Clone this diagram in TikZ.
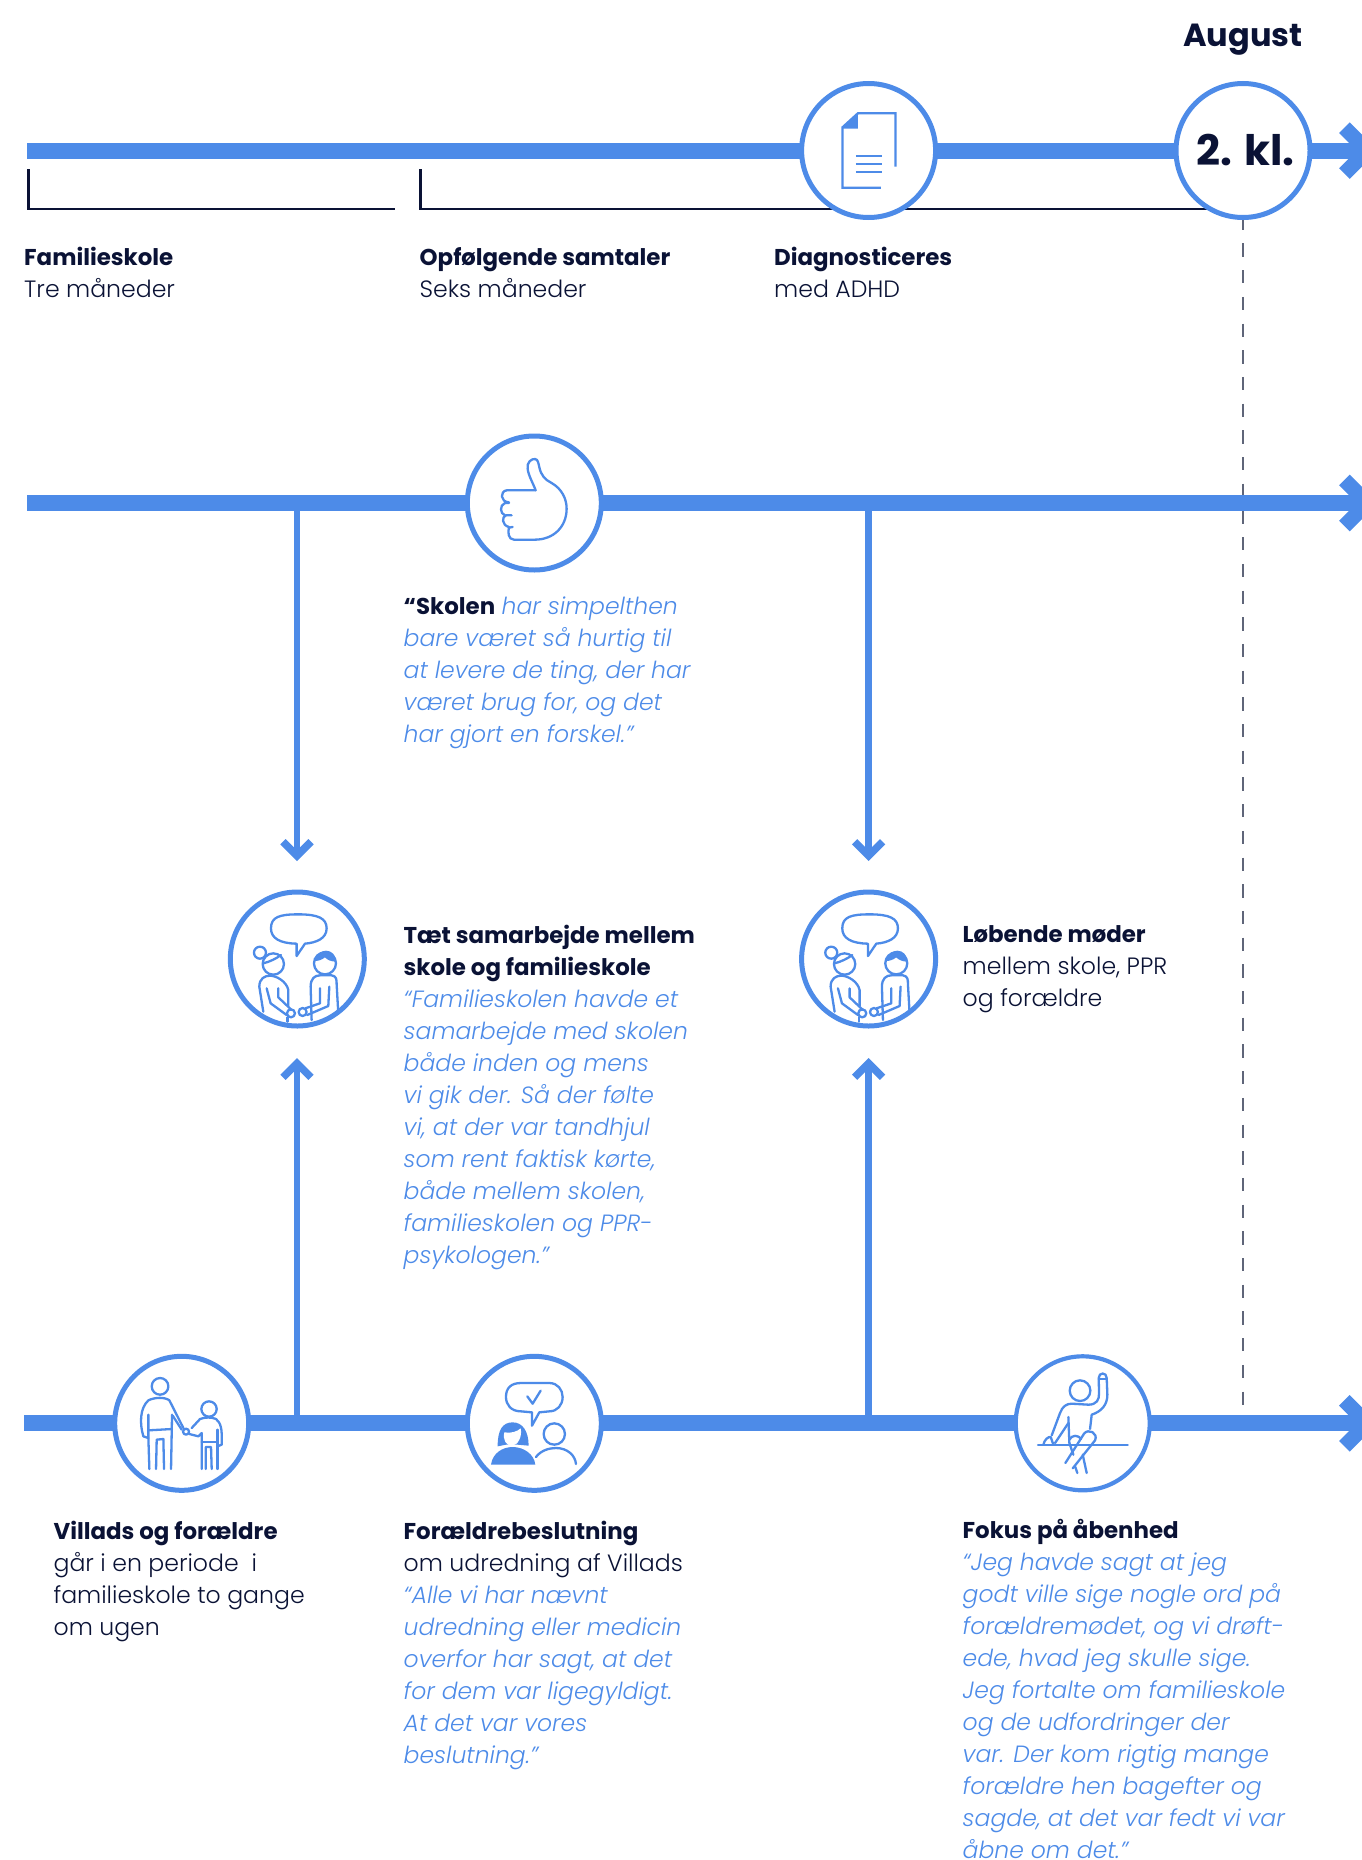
\documentclass[tikz,border=0pt]{standalone}
\usepackage{fontspec}
\setmainfont{Poppins}[UprightFont=* Light,ItalicFont=* Light Italic,BoldFont=* Bold,BoldItalicFont=* Bold Italic]
\usetikzlibrary{arrows.meta}
\definecolor{mainblue}{HTML}{4D8BE8}
\definecolor{navy}{HTML}{0A1235}
\definecolor{dashgrey}{HTML}{5F6579}
\newcommand{\st}{\rule{0pt}{24pt}}
\newcommand{\hd}[1]{{\fontsize{22.9}{32}\selectfont\bfseries\color{navy}#1}}
\newcommand{\qt}[1]{{\fontsize{23.5}{32}\selectfont\color{mainblue}\itshape #1}}
\tikzset{
  bar/.style={draw=mainblue,line width=16pt},
  bararrow/.style={bar,-{Straight Barb[length=23pt,width=46pt,line width=15pt]}},
  vert/.style={draw=mainblue,line width=6.5pt},
  vertarrow/.style={vert,-{Straight Barb[length=14pt,width=28pt,line width=7.5pt]}},
  ring/.style={circle,draw=mainblue,line width=5pt,fill=white,minimum size=134pt,inner sep=0pt},
  bracket/.style={draw=navy,line width=2.4pt},
  dashline/.style={draw=dashgrey,line width=1.5pt,dash pattern=on 13.3pt off 13.4pt},
  blk/.style={anchor=north west,inner sep=0pt,align=left,text=navy,font=\fontsize{23.6}{32}\selectfont},
  ic/.style={draw=mainblue,line width=2.3pt,line join=round,line cap=round},
  icf/.style={fill=mainblue,draw=none},
}
\newcommand{\talkicon}{%
  \draw[ic] (153,145) .. controls (153,110) and (180,103) .. (235,103) .. controls (295,103) and (320,115) .. (320,145) .. controls (320,175) and (290,188) .. (255,191) -- (230,228) -- (230,191) .. controls (180,190) and (153,175) .. (153,145) -- cycle;
  \draw[ic] (120,218) circle[radius=18];
  \draw[ic] (160,252) circle[radius=32];
  \draw[ic] (130,250) .. controls (150,245) and (170,235) .. (183,225);
  \draw[ic] (130,395) -- (118,320) .. controls (118,295) and (135,287) .. (150,287) .. controls (170,287) and (200,305) .. (205,330) -- (205,378);
  \draw[ic] (175,325) -- (175,352) -- (215,390);
  \draw[ic] (140,325) -- (152,370) -- (200,405);
  \draw[ic] (213,400) circle[radius=12];
  \draw[ic] (203,412) -- (203,425);
  \draw[ic] (315,250) circle[radius=33];
  \fill[icf] (283,243) .. controls (290,222) and (305,212) .. (318,212) .. controls (335,212) and (348,225) .. (348,245) .. controls (335,245) and (322,240) .. (315,232) .. controls (305,240) and (295,243) .. (283,243) -- cycle;
  \draw[ic] (275,420) -- (272,320) .. controls (272,295) and (285,286) .. (300,286) -- (335,286) .. controls (350,288) and (350,300) .. (350,312) -- (355,400);
  \draw[ic] (300,325) -- (300,370) -- (256,385);
  \draw[ic] (328,320) -- (325,378) -- (262,405);
  \draw[ic] (248,396) circle[radius=12];
}
\begin{document}
\begin{tikzpicture}[x=1pt,y=-1pt]
\useasboundingbox (0,0) rectangle (1362,1860);
\clip (0,0) rectangle (1362,1860);

% bracket and dashed line
\coordinate (b1a) at (28.5,169);
\coordinate (b1b) at (28.5,209);
\coordinate (b1c) at (395,209);
\coordinate (b2a) at (420.5,169);
\coordinate (b2b) at (420.5,209);
\coordinate (b2c) at (1215,209);
\draw[bracket] (b1a) -- (b1b) -- (b1c);
\draw[bracket] (b2a) -- (b2b) -- (b2c);
\coordinate (d1) at (1243,190);
\coordinate (d2) at (1243,1416);
\draw[dashline] (d1) -- (d2);

% timelines
\coordinate (l1s) at (27,150.6);
\coordinate (l1e) at (1378,150.6);
\coordinate (l2s) at (27,503);
\coordinate (l2e) at (1378,503);
\coordinate (l3s) at (24,1423.3);
\coordinate (l3e) at (1378,1423.3);
\draw[bararrow] (l1s) -- (l1e);
\draw[bararrow] (l2s) -- (l2e);
\draw[bararrow] (l3s) -- (l3e);

% vertical arrows
\coordinate (v1t) at (297,503);
\coordinate (v1a) at (297,861);
\coordinate (v1b) at (297,1423);
\coordinate (v1u) at (297,1058);
\coordinate (v2t) at (868.6,503);
\coordinate (v2a) at (868.6,861);
\coordinate (v2b) at (868.6,1423);
\coordinate (v2u) at (868.6,1058);
\draw[vertarrow] (v1t) -- (v1a);
\draw[vertarrow] (v1b) -- (v1u);
\draw[vertarrow] (v2t) -- (v2a);
\draw[vertarrow] (v2b) -- (v2u);

% circles
\node[ring] (doc) at (868.6,150.5) {};
\node[ring] (klasse) at (1243,150.5) {};
\node[ring] (thumb) at (534.3,503) {};
\node[ring] (talka) at (297.3,959) {};
\node[ring] (talkb) at (868.6,959) {};
\node[ring] (parents) at (181.7,1423.3) {};
\node[ring] (decision) at (534.3,1423.3) {};
\node[ring,line width=4.2pt] (focus) at (1082.7,1423.3) {};

\node[font=\fontsize{42}{42}\selectfont\bfseries,text=navy,anchor=base] (kl) at (1245.5,165) {2. kl.};
\node[font=\fontsize{32}{32}\selectfont\bfseries,text=navy,anchor=base] (aug) at (1243,47) {August};

% document icon
\begin{scope}[shift={(868.6,150)},x=0.3839pt,y=-0.3333pt,shift={(-283,-450)}]
  \draw[ic,line cap=butt,line join=miter] (353,500) -- (353,340) -- (255,340) -- (215,382) -- (215,563) -- (315,563);
  \fill[icf] (255,340) -- (255,386) -- (215,386) -- cycle;
  \draw[ic,line cap=butt] (250,467) -- (318,467);
  \draw[ic,line cap=butt] (250,492) -- (318,492);
  \draw[ic,line cap=butt] (250,517) -- (318,517);
\end{scope}

% thumb icon
\begin{scope}[shift={(534.3,503)},x=0.3333pt,y=-0.3333pt,shift={(-283,-248)}]
  \draw[ic] (287,210) .. controls (280,190) and (265,165) .. (263,145) .. controls (260,125) and (275,115) .. (285,116) .. controls (295,117) and (295,130) .. (298,140) .. controls (303,165) and (315,178) .. (335,188) .. controls (365,205) and (380,235) .. (380,265) .. controls (380,320) and (340,358) .. (285,358) -- (222,358) .. controls (205,358) and (203,335) .. (207,322) -- (218,320);
  \draw[ic] (215,285) -- (198,285) .. controls (185,288) and (185,315) .. (207,320);
  \draw[ic] (207,248) -- (195,248) .. controls (178,255) and (180,280) .. (195,285);
  \draw[ic] (287,210) -- (200,210) .. controls (180,212) and (180,245) .. (207,246);
\end{scope}

% talk icons
\begin{scope}[shift={(297.3,959)},x=0.3333pt,y=-0.3333pt,shift={(-232,-237)}]
  \talkicon
\end{scope}
\begin{scope}[shift={(868.6,959)},x=0.3333pt,y=-0.3333pt,shift={(-232,-237)}]
  \talkicon
\end{scope}

% parents icon
\begin{scope}[shift={(181.7,1423)},x=0.3333pt,y=-0.3333pt,shift={(-245,-250)}]
  \draw[ic] (180,140) circle[radius=25];
  \draw[ic] (145,295) -- (130,290) .. controls (118,250) and (120,205) .. (145,182) .. controls (165,172) and (195,172) .. (208,182) -- (250,265);
  \draw[ic] (145,225) -- (145,295) -- (148,388);
  \draw[ic] (145,272) -- (216,268);
  \draw[ic] (216,225) -- (213,388);
  \draw[ic] (168,388) -- (170,300) -- (190,298) -- (192,388);
  \draw[ic] (218,228) -- (245,270);
  \draw[ic] (258,276) circle[radius=9];
  \draw[ic] (268,283) -- (295,290) -- (305,280) -- (305,388);
  \draw[ic] (275,265) -- (300,238) .. controls (315,232) and (335,232) .. (348,238) .. controls (362,250) and (367,265) .. (365,315) -- (352,320);
  \draw[ic] (327,208) circle[radius=23];
  \draw[ic] (352,270) -- (352,388);
  \draw[ic] (305,307) -- (352,307);
  \draw[ic] (317,388) -- (317,322) -- (333,322) -- (335,388);
\end{scope}

% decision icon
\begin{scope}[shift={(534.3,1423)},x=0.3333pt,y=-0.3333pt,shift={(-235,-250)}]
  \draw[ic] (150,172) .. controls (150,145) and (165,130) .. (195,130) -- (280,130) .. controls (305,130) and (320,150) .. (320,172) .. controls (320,195) and (305,215) .. (280,215) -- (250,218) -- (228,258) -- (228,218) -- (195,215) .. controls (165,215) and (150,195) .. (150,172) -- cycle;
  \draw[ic] (214,170) -- (230,192) -- (254,153);
  \fill[icf] (125,320) .. controls (125,270) and (140,248) .. (170,248) .. controls (200,248) and (218,275) .. (218,318) -- (185,315) -- (150,315) -- cycle;
  \fill[white] (145,278) .. controls (165,282) and (185,275) .. (194,266) .. controls (200,290) and (185,318) .. (168,318) .. controls (150,318) and (140,300) .. (145,278) -- cycle;
  \fill[icf] (105,375) .. controls (110,340) and (140,322) .. (170,322) .. controls (205,322) and (235,345) .. (238,375) -- cycle;
  \draw[ic] (295,283) circle[radius=32];
  \draw[ic] (240,352) .. controls (255,332) and (280,325) .. (300,325) .. controls (335,325) and (358,348) .. (360,373);
\end{scope}

% focus icon
\begin{scope}[shift={(1082.7,1423)},x=0.3333pt,y=-0.3333pt,shift={(-248,-250)}]
  \draw[ic] (240,153) circle[radius=31];
  \draw[ic] (155,287) -- (180,220) .. controls (187,200) and (200,192) .. (215,192) -- (265,195) .. controls (290,195) and (298,180) .. (297,160) -- (296,115) .. controls (296,97) and (320,97) .. (320,115) -- (322,165) .. controls (322,195) and (305,215) .. (275,225) -- (270,268);
  \draw[ic] (296,118) -- (320,118);
  \draw[ic] (165,310) -- (205,250);
  \draw[ic] (205,232) -- (208,310) -- (220,345);
  \draw[ic] (130,315) .. controls (133,300) and (145,290) .. (152,292) -- (160,315);
  \draw[ic] (208,300) .. controls (215,285) and (235,285) .. (243,298);
  \draw[ic] (196,370) -- (252,282) .. controls (265,265) and (295,280) .. (285,302) -- (218,386);
  \draw[ic] (225,380) -- (232,400);
  \draw[ic] (248,345) -- (260,400);
  \draw[ic] (114,316) -- (383,316);
\end{scope}

% texts
\node[blk] (t1) at (24,241) {\st\hd{Familieskole}\\Tre måneder};
\node[blk] (t2) at (419.5,241) {\st\hd{Opfølgende samtaler}\\Seks måneder};
\node[blk] (t3) at (774,241) {\st\hd{Diagnosticeres}\\med ADHD};
\node[blk] (t4) at (403.5,590) {\st\hd{“Skolen} \qt{har simpelthen}\\\qt{bare været så hurtig til}\\\qt{at levere de ting, der har}\\\qt{været brug for, og det}\\\qt{har gjort en forskel.”}};
\node[blk] (t5) at (403.5,919.5) {\st\hd{Tæt samarbejde mellem}\\\hd{skole og familieskole}\\\qt{“Familieskolen havde et}\\\qt{samarbejde med skolen}\\\qt{både inden og mens}\\\qt{vi gik der. Så der følte}\\\qt{vi, at der var tandhjul}\\\qt{som rent faktisk kørte,}\\\qt{både mellem skolen,}\\\qt{familieskolen og PPR-}\\\qt{psykologen.”}};
\node[blk] (t6) at (962.5,918) {\st\hd{Løbende møder}\\mellem skole, PPR\\og forældre};
\node[blk] (t7) at (53.4,1515) {\st\hd{Villads og forældre}\\går i en periode\ \ i\\familieskole to gange\\om ugen};
\node[blk] (t8) at (403.5,1515) {\st\hd{Forældrebeslutning}\\om udredning af Villads\\\qt{“Alle vi har nævnt}\\\qt{udredning eller medicin}\\\qt{overfor har sagt, at det}\\\qt{for dem var ligegyldigt.}\\\qt{At det var vores}\\\qt{beslutning.”}};
\node[blk] (t9) at (962.5,1514.5) {\st\hd{Fokus på åbenhed}\\\qt{“Jeg havde sagt at jeg}\\\qt{godt ville sige nogle ord på}\\\qt{forældremødet, og vi drøft-}\\\qt{ede, hvad jeg skulle sige.}\\\qt{Jeg fortalte om familieskole}\\\qt{og de udfordringer der}\\\qt{var. Der kom rigtig mange}\\\qt{forældre hen bagefter og}\\\qt{sagde, at det var fedt vi var}\\\qt{åbne om det.”}};
\end{tikzpicture}
\end{document}
